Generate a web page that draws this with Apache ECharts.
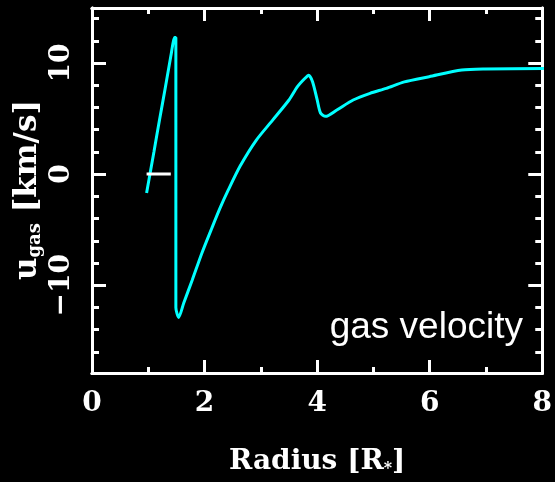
<!DOCTYPE html>
<html><head><meta charset="utf-8">
<script src="https://cdn.jsdelivr.net/npm/echarts@6/dist/echarts.min.js"></script>
<style>html,body{margin:0;padding:0;background:#000;}#c{width:555px;height:482px;}</style>
</head><body><div id="c"></div>
<script>
const radius = [0.97,1.10,1.20,1.30,1.40,1.47,1.49,1.49,1.54,1.63,1.78,1.95,2.13,2.28,2.42,2.63,2.92,3.21,3.50,3.65,3.78,3.85,3.92,4.00,4.06,4.15,4.35,4.64,4.94,5.23,5.55,5.99,6.57,6.98,8.03];
const velocity = [-1.7,2.0,4.9,7.7,10.6,12.3,12.3,-12.0,-12.9,-11.6,-9.55,-7.14,-4.85,-3.0,-1.45,0.7,3.06,4.86,6.67,7.87,8.6,8.9,8.3,6.7,5.5,5.2,5.77,6.67,7.27,7.72,8.3,8.77,9.37,9.46,9.5];
const zeroX = [0.97, 1.40];
const zeroY = [0, 0];
const xMajor = [0,2,4,6,8];
const xMinor = [1,3,5,7];
const yMajor = [-10,0,10];
const yMinor = [-16,-14,-12,-8,-6,-4,-2,2,4,6,8,12,14];

const W = '#ffffff';
const lab = {fontFamily:'DejaVu Serif', fontWeight:'bold', fontSize:28, color:W};
function xa(pos, ticks, len, opts) {
  return Object.assign({type:'value', position:pos, min:0, max:8, gridIndex:0,
    axisLine:{show:true, onZero:false, lineStyle:{color:W, width:3}},
    axisTick:{show:true, inside:true, length:len, customValues:ticks, lineStyle:{color:W, width:3}},
    axisLabel:{show:false}, splitLine:{show:false}}, opts||{});
}
function ya(pos, ticks, len, opts) {
  return Object.assign({type:'value', position:pos, min:-17.9, max:14.95, gridIndex:0,
    axisLine:{show:true, onZero:false, lineStyle:{color:W, width:3}},
    axisTick:{show:true, inside:true, length:len, customValues:ticks, lineStyle:{color:W, width:3}},
    axisLabel:{show:false}, splitLine:{show:false}}, opts||{});
}
const chart = echarts.init(document.getElementById('c'));
chart.setOption({
  backgroundColor:'#000',
  animation:false,
  grid:{left:92, right:6, top:8, bottom:109},
  xAxis:[
    xa('bottom', xMajor, 13, {
      axisLabel:Object.assign({show:true, customValues:xMajor, margin:17}, lab),
      name:'Radius [R{s|*}]', nameLocation:'middle', nameGap:74,
      nameTextStyle:Object.assign({}, lab, {rich:{s:{fontFamily:'DejaVu Serif', fontWeight:'bold', fontSize:16, color:W, verticalAlign:'bottom', padding:[14,0,0,0]}}})
    }),
    xa('bottom', xMinor, 6),
    xa('top', xMajor, 13),
    xa('top', xMinor, 6)
  ],
  yAxis:[
    ya('left', yMajor, 14, {
      axisLabel:Object.assign({show:true, customValues:yMajor, rotate:90, margin:16,
        formatter:v=>String(v).replace('-', '\u2212')}, lab)
    }),
    ya('left', yMinor, 7),
    ya('right', yMajor, 14),
    ya('right', yMinor, 7)
  ],
  graphic:[
    {type:'text', x:28, y:190, rotation:Math.PI/2,
      style:{text:'u{s|gas} [km/s]', fill:W, font:'bold 31px "DejaVu Serif"', align:'center', verticalAlign:'middle',
        rich:{s:{fontFamily:'DejaVu Serif', fontWeight:'bold', fontSize:18, fill:W, padding:[15,0,0,0]}}}},
    {type:'text', x:523, y:328, style:{text:'gas velocity', fill:W, font:'37px "Liberation Sans"', align:'right', verticalAlign:'middle'}}
  ],
  series:[
    {type:'line', xAxisIndex:0, yAxisIndex:0, showSymbol:false, symbol:'none',
      smooth:0.25,
      data: radius.map((r,i)=>[r, velocity[i]]), lineStyle:{color:'#00ffff', width:3}, z:3},
    {type:'line', xAxisIndex:0, yAxisIndex:0, showSymbol:false, symbol:'none',
      data: zeroX.map((r,i)=>[r, zeroY[i]]), lineStyle:{color:W, width:3}, z:4}
  ]
});
</script></body></html>
